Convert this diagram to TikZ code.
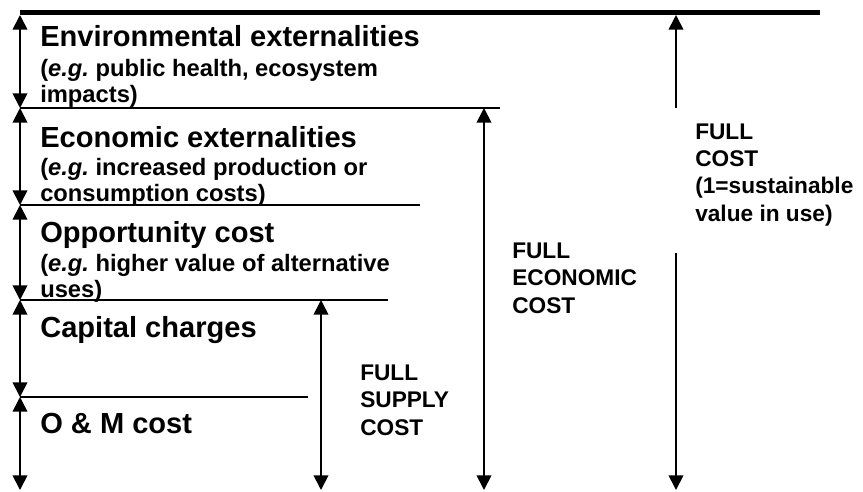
\documentclass[tikz,border=0pt]{standalone}
\usepackage{fontspec}
\setmainfont{Liberation Sans}
\usetikzlibrary{arrows.meta}

\tikzset{
  level/.style={line width=1.3pt},
  span/.style={line width=1.3pt,{Triangle[width=11pt,length=11pt]}-{Triangle[width=11pt,length=11pt]}},
  upto/.style={line width=1.3pt,-{Triangle[width=11pt,length=11pt]}},
  head/.style={font=\bfseries\fontsize{21.8}{26}\selectfont,anchor=base west,inner sep=0pt},
  note/.style={font=\bfseries\fontsize{17.8}{19.5}\selectfont,anchor=base west,inner sep=0pt,align=left},
  tag/.style={font=\bfseries\fontsize{17}{20.5}\selectfont,anchor=base west,inner sep=0pt,align=left}
}

\begin{document}
\begin{tikzpicture}[x=0.75pt,y=-0.75pt]
\useasboundingbox (0,0) rectangle (863,492);
% levels
\coordinate (l0) at (20,15);
\coordinate (l1) at (20,108);
\coordinate (l2) at (20,205);
\coordinate (l3) at (20,300);
\coordinate (l4) at (20,397);
\coordinate (l5) at (20,490);
\draw[line width=4pt] (20,12.5) -- (820,12.5);
\draw[level] (l1) -- (500,108);
\draw[level] (l2) -- (420,205);
\draw[level] (l3) -- (388,300);
\draw[level] (l4) -- (308,397);
\foreach \a/\b in {l0/l1,l1/l2,l2/l3,l3/l4,l4/l5}
  \draw[span] (\a) -- (\b);
% cost bands (note nodes sit on their last line)
\node[head] (env) at (40,47) {Environmental externalities};
\node[note] (envx) at (40,102) {({\itshape e.g.}\ public health, ecosystem\\impacts)};
\node[head] (eco) at (40,147) {Economic externalities};
\node[note] (ecox) at (40,201) {({\itshape e.g.}\ increased production or\\consumption costs)};
\node[head] (opp) at (40,242) {Opportunity cost};
\node[note] (oppx) at (40,297) {({\itshape e.g.}\ higher value of alternative\\uses)};
\node[head] (cap) at (40,337) {Capital charges};
\node[head] (om) at (40,433) {O \& M cost};
% totals
\coordinate (s0) at (321,300);
\coordinate (s1) at (321,490);
\coordinate (e0) at (484,108);
\coordinate (e1) at (484,490);
\coordinate (f0) at (676,15);
\coordinate (f1) at (676,108);
\coordinate (f2) at (676,253);
\coordinate (f3) at (676,490);
\draw[span] (s0) -- (s1);
\draw[span] (e0) -- (e1);
\draw[upto] (f1) -- (f0);
\draw[upto] (f2) -- (f3);
\node[tag] (supply) at (360,435) {FULL\\SUPPLY\\COST};
\node[tag] (econ) at (512,313) {FULL\\ECONOMIC\\COST};
\node[tag] (full) at (695,221) {FULL\\COST\\(1=sustainable\\value in use)};
\end{tikzpicture}
\end{document}
